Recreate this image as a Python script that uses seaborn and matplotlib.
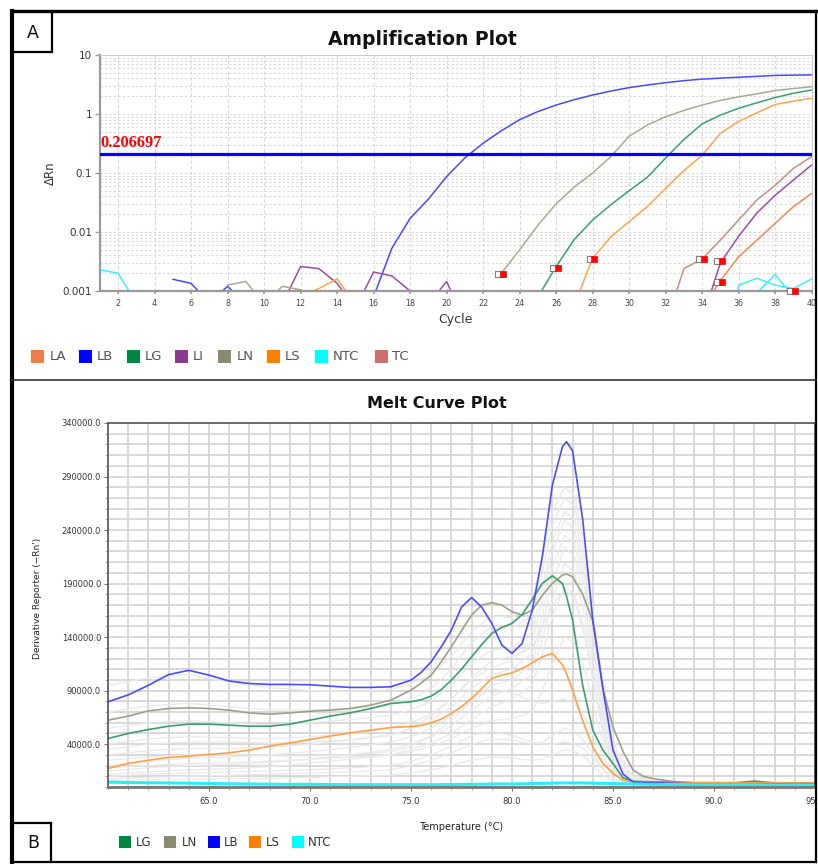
import numpy as np
import pandas as pd
import matplotlib
matplotlib.use("Agg")
import matplotlib.pyplot as plt
import seaborn as sns
from matplotlib.patches import Rectangle
from matplotlib.lines import Line2D
from matplotlib.ticker import FixedLocator, FuncFormatter, MultipleLocator, NullFormatter, LogLocator

N = np.nan
# ---------------- Amplification plot data ----------------
cycles = list(range(1, 41))
amp_LA = [N] * 33 + [0.0005, 0.0015, 0.0038, 0.0073, 0.014, 0.027, 0.045]
amp_LB = [N, N, N, N, 0.00158, 0.00135, 0.00063, 0.0012, 0.0006, N, N, N, N, N, N,
          0.0008, 0.0053, 0.017, 0.036, 0.087, 0.18, 0.32, 0.52, 0.8, 1.1, 1.42, 1.75,
          2.1, 2.45, 2.8, 3.1, 3.4, 3.67, 3.9, 4.05, 4.2, 4.35, 4.5, 4.55, 4.6]
amp_LG = [N] * 24 + [0.00079, 0.0026, 0.0075, 0.016, 0.029, 0.05, 0.085, 0.18, 0.37, 0.68,
                     0.96, 1.25, 1.55, 1.9, 2.25, 2.55]
amp_LI = [N] * 10 + [0.0006, 0.0026, 0.0024, 0.00135, 0.0005, 0.0021, 0.0018, 0.001, 0.0006,
                     0.00145, 0.0003] + [N] * 12 + [0.00033, 0.0030, 0.0085, 0.021, 0.042, 0.076, 0.137]
amp_LN = [N] * 7 + [0.00126, 0.00145, 0.0006, 0.0012, 0.00105, 0.0007] + [N] * 9 + \
         [0.0020, 0.005, 0.013, 0.03, 0.058, 0.1, 0.19, 0.42, 0.65, 0.9, 1.15, 1.42, 1.7, 1.95,
          2.2, 2.5, 2.7, 2.9]
amp_LS = [N] * 11 + [0.0008, 0.0011, 0.0016, 0.0006] + [N] * 11 + \
         [0.00058, 0.0036, 0.0083, 0.015, 0.027, 0.055, 0.11, 0.2, 0.47, 0.75, 1.05, 1.45, 1.65, 1.85]
amp_NTC = [0.0023, 0.0020, 0.00063] + [N] * 31 + [1e-5, 0.00126, 0.00164, 0.00126, 0.0011, 0.0016]
amp_NTC2 = [N] * 36 + [0.00093, 0.0019, 0.0008, N]
amp_TC = [N] * 31 + [0.00027, 0.0024, 0.0035, 0.0073, 0.016, 0.035, 0.062, 0.12, 0.19]
threshold = 0.206697
amp_labels = ["LA", "LB", "LG", "LI", "LN", "LS", "NTC", "TC"]

ct_samples = ["LN", "LG", "LS", "TC", "LI", "LA", "NTC"]
ct_cycles = [23, 26, 28, 34, 35, 35, 39]
ct_values = [0.00197, 0.00245, 0.00353, 0.0035, 0.0032, 0.0014, 0.001]

amp_yticks = [0.001, 0.01, 0.1, 1, 10]
amp_yticklabels = ["0.001", "0.01", "0.1", "1", "10"]

# ---------------- Melt curve data ----------------
melt_T = [60, 61, 62, 63, 64, 65, 66, 67, 68, 69, 70, 71, 72, 73, 74, 75, 75.5, 76, 76.5, 77,
          77.5, 78, 78.5, 79, 79.5, 80, 80.5, 81, 81.5, 82, 82.5, 82.7, 83, 83.5, 84, 84.5, 85,
          85.5, 86, 86.5, 87, 88, 89, 90, 91, 92, 93, 94, 95]
melt_LB = [79.6, 86, 95, 105, 109, 104.5, 99, 96.7, 95.8, 95.8, 95.5, 94.2, 93, 93, 93.6, 99.8,
           107, 117, 131, 146.5, 168, 177, 168, 152.8, 132.5, 124.8, 134, 165, 215, 282, 318,
           322.5, 314, 250, 155.9, 92, 34.4, 12, 4.5, 4.2, 4, 3.5, 3, 2.2, 2.2, 2.5, 3, 3, 3]
melt_LN = [62.4, 66.2, 71.1, 73.3, 73.9, 73.3, 71.8, 69.2, 68, 69.2, 70.8, 71.8, 73.3, 76.5, 81.1,
           90.5, 97, 104.5, 117, 131, 146, 160.6, 169.9, 172.1, 169.9, 163.7, 160.6, 165.2, 179,
           190.2, 198, 198.9, 196.4, 180, 155, 92, 56, 33, 15.7, 10, 7.8, 5, 3.8, 3.5, 3.5, 3.5,
           3.5, 3.5, 3.5]
melt_LG = [45.3, 50, 53.7, 56.8, 58.7, 58.7, 57.8, 56.8, 56.8, 58.7, 62.4, 66.2, 69.3, 73.3, 78,
           79.6, 81.5, 84.9, 91, 99.8, 110, 121.6, 133, 143.5, 149, 152.8, 161, 175, 190.2, 197.3,
           190, 178, 155.9, 95, 53.1, 34.4, 21.9, 8.5, 5.4, 5, 4.8, 4.5, 4, 3.8, 3.8, 5.5, 3.8,
           3.8, 3.8]
melt_LS = [17.3, 22, 25, 27.6, 28.8, 30.4, 31.9, 34.4, 38.1, 41.2, 44.4, 47.5, 50.6, 53.1, 55.6,
           56.5, 57.5, 59.9, 63.5, 68.7, 75, 82.7, 92, 101.4, 104.5, 106.6, 110.7, 116, 121.6,
           124.8, 114, 106, 90.5, 62, 37.5, 22, 12.6, 6.5, 4.5, 4.2, 4, 4, 4, 3.8, 3.8, 3.8, 3.8,
           3.8, 3.8]
melt_NTC = [4.5, 4.2, 4, 3.8, 3.6, 3.3, 3, 2.8, 2.6, 2.5, 2.5, 2.3, 2.2, 2.2, 2.2, 2.2, 2.2, 2.2,
            2.2, 2.3, 2.4, 2.5, 2.6, 2.7, 2.8, 2.8, 3, 3.2, 3.4, 3.6, 3.8, 3.8, 3.8, 3.8, 3.6, 3.4,
            3.2, 3, 2.8, 2.6, 2.5, 2.3, 2.2, 2, 2, 2, 2, 2, 2]
melt_labels = ["LG", "LN", "LB", "LS", "NTC"]

# other (unselected) wells, drawn light grey
bg_T = [60, 62, 64, 66, 68, 70, 72, 74, 75, 76, 77, 78, 79, 80, 81, 81.5, 82, 82.6, 83.1, 83.6,
        84.1, 84.6, 85.1, 86, 88, 95]
bg_1 = [95, 102, 105, 98, 93, 90, 89, 91, 96, 105, 122, 145, 160, 158, 172, 215, 258, 280, 272, 225, 150, 88, 38, 10, 5, 4]
bg_2 = [70, 76, 78, 75, 72, 72, 73, 77, 82, 92, 110, 135, 150, 148, 160, 200, 245, 270, 262, 215, 145, 82, 34, 9, 5, 4]
bg_3 = [55, 60, 62, 60, 58, 60, 63, 67, 72, 80, 95, 115, 128, 130, 145, 185, 230, 257, 250, 205, 140, 78, 30, 8, 5, 4]
bg_4 = [40, 45, 47, 46, 45, 47, 50, 55, 60, 68, 82, 100, 112, 118, 135, 175, 220, 249, 240, 195, 130, 70, 26, 7, 4, 4]
bg_5 = [30, 34, 36, 36, 37, 40, 44, 49, 54, 62, 75, 92, 105, 110, 125, 160, 205, 235, 228, 185, 120, 62, 22, 6, 4, 4]
bg_6 = [20, 24, 27, 28, 30, 33, 37, 42, 47, 55, 66, 82, 95, 100, 115, 150, 190, 224, 215, 172, 110, 55, 18, 6, 4, 4]
bg_7 = [15, 18, 20, 21, 23, 26, 30, 35, 40, 47, 57, 72, 85, 92, 105, 138, 175, 209, 200, 160, 100, 48, 15, 5, 4, 4]
bg_8 = [12, 14, 16, 17, 19, 22, 26, 30, 35, 41, 50, 63, 75, 82, 95, 125, 160, 187, 180, 145, 90, 42, 13, 5, 4, 4]
bg_9 = [10, 12, 13, 14, 15, 16, 18, 20, 24, 30, 38, 48, 52, 48, 42, 40, 40, 42, 40, 35, 25, 14, 7, 4, 4, 3]
bg_10 = [8, 9, 10, 11, 12, 13, 14, 16, 20, 25, 32, 40, 45, 44, 40, 42, 48, 55, 52, 42, 28, 15, 7, 4, 4, 3]
bg_11 = [25, 28, 30, 30, 29, 29, 30, 33, 38, 48, 62, 80, 92, 88, 80, 78, 80, 82, 78, 65, 45, 25, 10, 5, 4, 3]
bg_12 = [6, 7, 7, 8, 8, 9, 10, 11, 13, 16, 20, 25, 28, 27, 25, 26, 30, 35, 33, 28, 18, 10, 5, 4, 4, 3]
bg_13 = [35, 40, 42, 42, 41, 42, 44, 48, 55, 66, 82, 102, 118, 122, 130, 150, 170, 185, 175, 140, 90, 45, 15, 6, 4, 4]
bg_14 = [18, 20, 22, 23, 24, 26, 28, 30, 33, 38, 45, 55, 62, 64, 70, 90, 115, 140, 135, 110, 70, 35, 12, 5, 4, 4]
bg_curves = [bg_1, bg_2, bg_3, bg_4, bg_5, bg_6, bg_7, bg_8, bg_9, bg_10, bg_11, bg_12, bg_13, bg_14]

melt_yticks = [40000, 90000, 140000, 190000, 240000, 290000, 340000]
melt_xticks = [65, 70, 75, 80, 85, 90, 95]

# ---------------- styles ----------------
amp_line_colors = {"LA": "#f08858", "LB": "#4848ff", "LG": "#38a070", "LI": "#9450a4",
                   "LN": "#a8a898", "LS": "#ffa24e", "NTC": "#3cf0ff", "TC": "#c88c8c"}
amp_legend_colors = {"LA": "#ee7d4e", "LB": "#0000ff", "LG": "#00873f", "LI": "#8c3b8c",
                     "LN": "#8a8a70", "LS": "#ff8000", "NTC": "#00ffff", "TC": "#c8706e"}
melt_line_colors = {"LG": "#3c9e6e", "LN": "#a09e8a", "LB": "#4b4bff", "LS": "#ffa048", "NTC": "#28eef8"}
melt_legend_colors = {"LG": "#00873f", "LN": "#8a8a70", "LB": "#0000ff", "LS": "#ff8000", "NTC": "#00ffff"}

W, H = 818, 864
sns.set_theme(style="white")
plt.rcParams["font.family"] = ["DejaVu Sans"]

fig = plt.figure(figsize=(W / 100, H / 100), dpi=100)
fig.patch.set_facecolor("white")


def fx(x):
    return x / W


def fy(y):
    return 1 - y / H


# ---------------- build long tables ----------------
amp_series = [("LA", 1, amp_LA), ("LB", 1, amp_LB), ("LG", 1, amp_LG), ("LI", 1, amp_LI),
              ("LN", 1, amp_LN), ("LS", 1, amp_LS), ("NTC", 1, amp_NTC), ("NTC", 2, amp_NTC2),
              ("TC", 1, amp_TC)]
rows = []
for name, rep, vals in amp_series:
    seg, prev_nan = 0, True
    for c, v in zip(cycles, vals):
        if np.isnan(v):
            prev_nan = True
            continue
        if prev_nan:
            seg += 1
            prev_nan = False
        rows.append((name, f"{name}-{rep}-{seg}", c, v))
amp_df = pd.DataFrame(rows, columns=["Sample", "unit", "Cycle", "dRn"])

bg_rows = []
for i, vals in enumerate(bg_curves):
    for t, v in zip(bg_T, vals):
        bg_rows.append((i, t, v * 1000))
bg_df = pd.DataFrame(bg_rows, columns=["curve", "T", "V"])

melt_series = {"LG": melt_LG, "LN": melt_LN, "LB": melt_LB, "LS": melt_LS, "NTC": melt_NTC}
mrows = []
for name, vals in melt_series.items():
    for t, v in zip(melt_T, vals):
        mrows.append((name, t, v * 1000))
melt_df = pd.DataFrame(mrows, columns=["Sample", "T", "V"])

# ---------------- Amplification axes ----------------
ax1 = fig.add_axes([fx(99.8), fy(291), fx(811.7) - fx(99.8), fy(55) - fy(291)])
ax1.set_yscale("log")
ax1.set_xlim(1, 40)
ax1.set_ylim(0.001, 10)
ax1.set_axisbelow(True)
ax1.yaxis.set_major_locator(FixedLocator(amp_yticks))
ax1.yaxis.set_major_formatter(FuncFormatter(lambda v, p: amp_yticklabels[amp_yticks.index(v)] if v in amp_yticks else ""))
ax1.yaxis.set_minor_locator(LogLocator(base=10, subs=np.arange(2, 10)))
ax1.yaxis.set_minor_formatter(NullFormatter())
ax1.xaxis.set_major_locator(MultipleLocator(2))
ax1.grid(which="major", axis="x", color="#d8d8d8", lw=0.8, ls=(0, (3, 2)))
ax1.grid(which="both", axis="y", color="#d8d8d8", lw=0.8, ls=(0, (2, 2)))
for s in ["left", "bottom"]:
    ax1.spines[s].set_color("#9a9a9a")
    ax1.spines[s].set_linewidth(1.6)
for s in ["top", "right"]:
    ax1.spines[s].set_color("#cccccc")
    ax1.spines[s].set_linewidth(0.8)
ax1.tick_params(axis="y", which="major", length=3.5, width=1, color="#9a9a9a", labelsize=7.5,
                labelcolor="#333333", pad=2, left=True)
ax1.tick_params(axis="y", which="minor", length=0)
ax1.tick_params(axis="x", which="major", length=2, color="#9a9a9a", labelsize=5.8,
                labelcolor="#444444", pad=4, bottom=True)

sns.lineplot(data=amp_df, x="Cycle", y="dRn", hue="Sample", units="unit", estimator=None,
             palette=amp_line_colors, hue_order=amp_labels, legend=False, linewidth=1.1,
             ax=ax1, sort=True)
ax1.axhline(threshold, color="#0000ff", lw=2.3, zorder=4)
ax1.text(1.02, threshold * 1.12, f"{threshold:.6f}", color="#ff0000", fontsize=11.8,
         fontweight="bold", family="Liberation Serif", va="bottom", ha="left", zorder=5)

ctc = np.array(ct_cycles, dtype=float)
sns.scatterplot(x=ctc - 0.17, y=ct_values, marker="s", s=16, color="white", edgecolor="#808080",
                linewidth=0.8, ax=ax1, zorder=6, clip_on=False, legend=False)
sns.scatterplot(x=ctc + 0.1, y=ct_values, marker="s", s=18, color="#ff0000", edgecolor="#ff0000",
                linewidth=0.5, ax=ax1, zorder=7, clip_on=False, legend=False)
ax1.set_xlim(1, 40)
ax1.set_ylim(0.001, 10)
ax1.set_xlabel("")
ax1.set_ylabel("")

fig.text(fx(422.5), fy(45), "Amplification Plot", fontsize=13.5, fontweight="bold",
         ha="center", va="baseline", color="#111111")
fig.text(fx(455.7), fy(320), "Cycle", fontsize=9, ha="center", va="center", color="#333333")
fig.text(fx(50), fy(173), "ΔRn", fontsize=8.5, ha="center", va="center", rotation=90, color="#333333")

# ---------------- Melt axes ----------------
ax2 = fig.add_axes([fx(108), fy(787), fx(815) - fx(108), fy(423) - fy(787)])
ax2.set_xlim(60, 95)
ax2.set_ylim(0, 340000)
ax2.set_axisbelow(True)
ax2.xaxis.set_major_locator(FixedLocator(melt_xticks))
ax2.xaxis.set_minor_locator(MultipleLocator(1))
ax2.xaxis.set_major_formatter(FuncFormatter(lambda v, p: f"{v:.1f}"))
ax2.yaxis.set_major_locator(FixedLocator(melt_yticks))
ax2.yaxis.set_minor_locator(MultipleLocator(10000))
ax2.yaxis.set_major_formatter(FuncFormatter(lambda v, p: f"{v:.1f}"))
ax2.grid(which="both", axis="both", color="#d2d2d2", lw=1.2, ls="-")
for s in ax2.spines.values():
    s.set_color("#555555")
    s.set_linewidth(1.2)
ax2.spines["bottom"].set_color("#777777")
ax2.spines["bottom"].set_linewidth(2)
ax2.tick_params(axis="both", which="major", length=3, width=0.8, color="#777777", labelsize=6,
                labelcolor="#333333", pad=2, left=True, bottom=True)
ax2.tick_params(axis="both", which="minor", length=2, width=0.6, color="#999999", left=True, bottom=True)
ax2.tick_params(axis="x", which="major", pad=4)

sns.lineplot(data=bg_df, x="T", y="V", units="curve", estimator=None, color="#e9e9e9",
             linewidth=0.9, ax=ax2, legend=False, sort=True)
draw_order = ["LN", "LG", "LS", "LB"]
sns.lineplot(data=melt_df[melt_df.Sample.isin(draw_order)], x="T", y="V", hue="Sample",
             hue_order=draw_order, palette=melt_line_colors, estimator=None, linewidth=1.2,
             ax=ax2, legend=False, sort=True)
sns.lineplot(data=melt_df[melt_df.Sample == "NTC"], x="T", y="V", color=melt_line_colors["NTC"],
             estimator=None, linewidth=2.2, ax=ax2, legend=False, sort=True)
ax2.set_xlim(60, 95)
ax2.set_ylim(0, 340000)
ax2.set_xlabel("")
ax2.set_ylabel("")

fig.text(fx(437), fy(408), "Melt Curve Plot", fontsize=11.5, fontweight="bold", ha="center",
         va="baseline", color="#111111")
fig.text(fx(461.5), fy(827), "Temperature (°C)", fontsize=7, ha="center", va="center", color="#222222")
fig.text(fx(37), fy(598), "Derivative Reporter (\u2212Rn')", fontsize=6.5, ha="center", va="center",
         rotation=90, color="#222222")


# ---------------- legends ----------------
def legend_row(labels, colors, sq_x, txt_x, y_top, size, fs, tcolor):
    for lab, sx, tx in zip(labels, sq_x, txt_x):
        fig.add_artist(Rectangle((fx(sx), fy(y_top + size)), size / W, size / H,
                                 transform=fig.transFigure, facecolor=colors[lab], edgecolor="none"))
        fig.text(fx(tx), fy(y_top + size / 2), lab, fontsize=fs, ha="left", va="center", color=tcolor)


legend_row(amp_labels, amp_legend_colors, [31, 79, 127, 175, 218, 267, 315, 375],
           [50, 97, 145, 193, 237, 285, 333, 392], 350, 13, 9.5, "#555555")
legend_row(melt_labels, melt_legend_colors, [119, 164, 208, 249, 292],
           [136, 182, 224, 266, 308], 836, 12, 8.5, "#333333")


# ---------------- frames ----------------
def fline(x0, y0, x1, y1, lw, color="black"):
    fig.add_artist(Line2D([fx(x0), fx(x1)], [fy(y0), fy(y1)], transform=fig.transFigure,
                          color=color, lw=lw, solid_capstyle="projecting"))


fline(12, 11, 12, 862, 3.0)
fline(12, 11, 816, 11, 2.4)
fline(816, 11, 816, 862, 1.6)
fline(12, 862, 816, 862, 1.6)
fline(12, 380, 816, 380, 1.2, "#333333")
# panel label boxes
fline(52, 12, 52, 52, 1.6)
fline(13, 52, 52, 52, 1.6)
fline(51, 823, 51, 862, 1.6)
fline(13, 823, 51, 823, 1.6)
fig.text(fx(33), fy(33), "A", fontsize=12.5, ha="center", va="center", color="#111111")
fig.text(fx(33), fy(843), "B", fontsize=12.5, ha="center", va="center", color="#111111")

fig.savefig("out.png", dpi=100, facecolor="white")
